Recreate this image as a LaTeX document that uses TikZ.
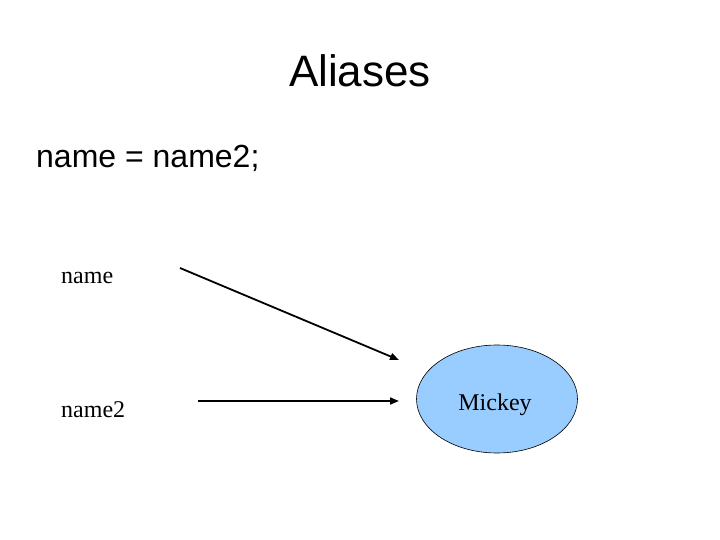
\documentclass[tikz,border=0pt]{standalone}
\usepackage{fontspec}
\setmainfont{Liberation Serif}
\newfontfamily\arialfont{Liberation Sans}
\usetikzlibrary{shapes.geometric,arrows.meta}
\definecolor{ellblue}{RGB}{153,204,255}
\tikzset{
  sanslabel/.style={font=\arialfont\fontsize{32}{38}\selectfont, anchor=base west, inner sep=0pt},
  seriflabel/.style={font=\fontsize{24}{28}\selectfont, anchor=base west, inner sep=0pt},
  pointer/.style={line width=1.8pt, -{Triangle[length=9pt,width=7pt]}},
  target/.style={ellipse, draw=black, line width=0.6pt, fill=ellblue, minimum width=161pt, minimum height=108pt, inner sep=0pt}
}
\begin{document}
\begin{tikzpicture}[x=1pt,y=-1pt]
\useasboundingbox (0,0) rectangle (720,540);
\node[font=\arialfont\fontsize{44}{52}\selectfont, anchor=base, inner sep=0pt] (title) at (360,87) {Aliases};
\node[sanslabel] (stmt) at (36,168) {name = name2;};
\node[seriflabel] (lbl1) at (61,283) {name};
\node[seriflabel] (lbl2) at (61,417) {name2};
\node[target] (mickey) at (497,399) {};
\node[font=\fontsize{24}{28}\selectfont, anchor=base, inner sep=0pt] (mtext) at (495,410) {Mickey};
\coordinate (s1) at (180,268);
\coordinate (e1) at (399,360);
\coordinate (s2) at (198,401);
\coordinate (e2) at (399,401);
\draw[pointer] (s1) -- (e1);
\draw[pointer] (s2) -- (e2);
\end{tikzpicture}
\end{document}
